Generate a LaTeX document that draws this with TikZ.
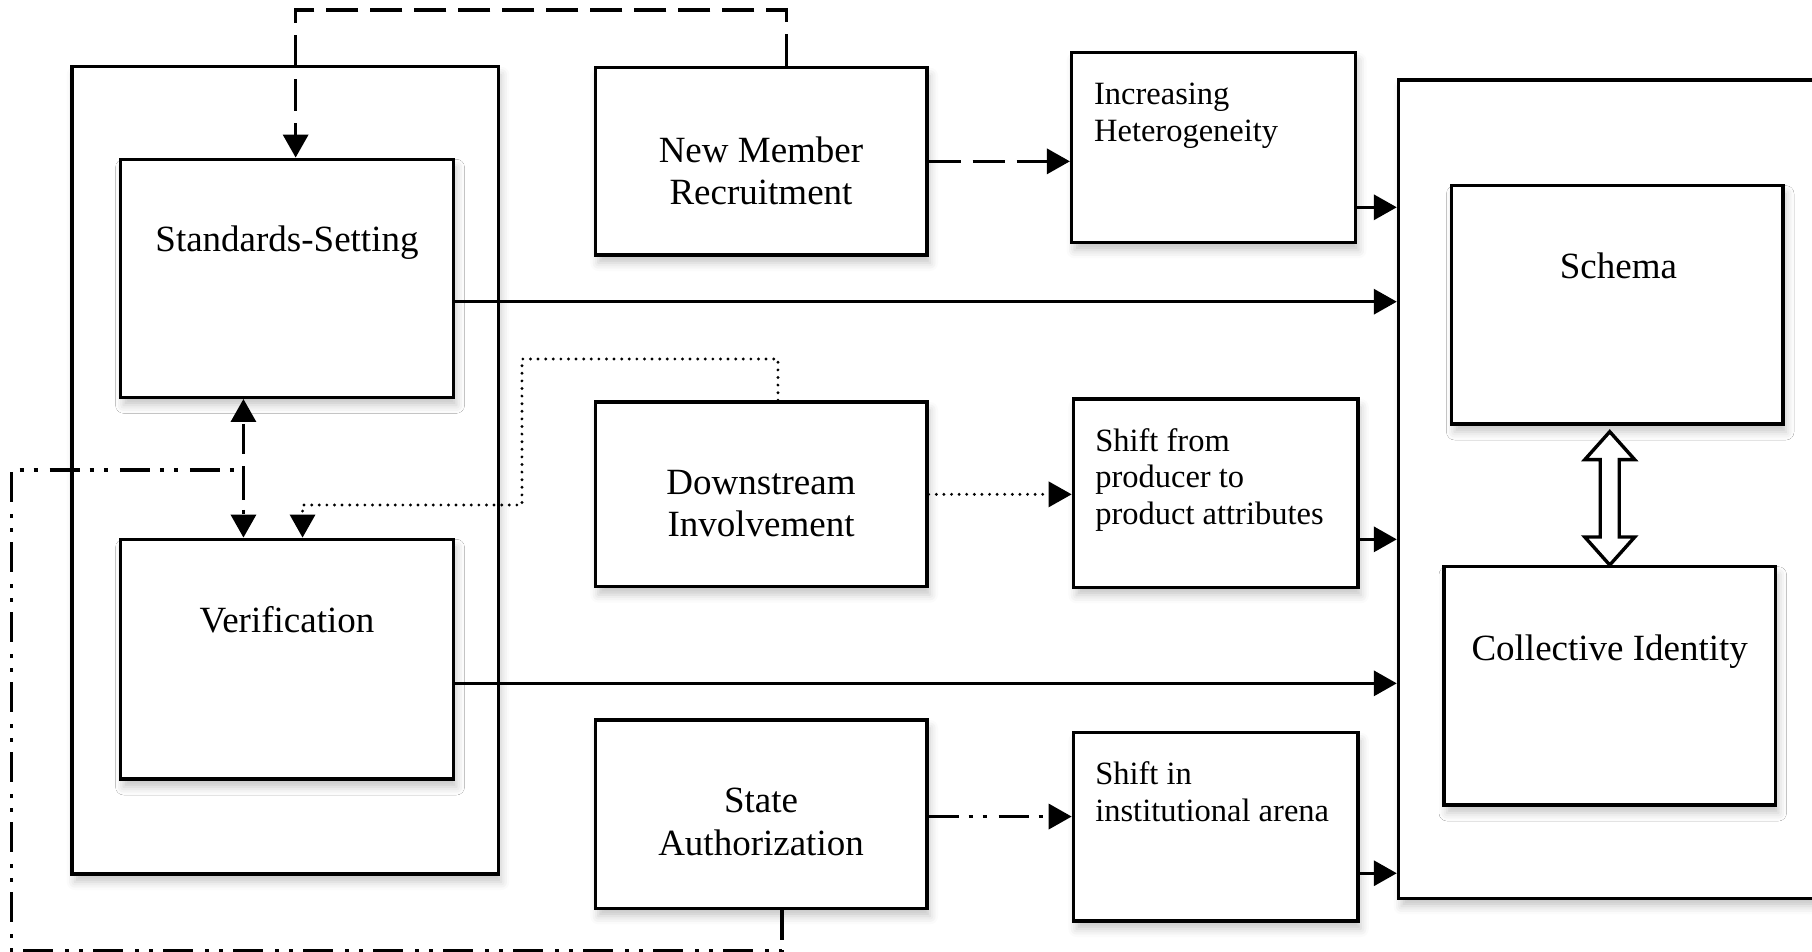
\documentclass[tikz,border=0pt]{standalone}
\usepackage{fontspec}
\setmainfont{Liberation Serif}
\usetikzlibrary{arrows.meta,fit,calc,shadows.blur}
\tikzset{
  box/.style={draw, line width=1.7pt, fill=white, inner sep=0pt,
    blur shadow={shadow xshift=1.5pt, shadow yshift=-4pt, shadow blur radius=4pt, shadow opacity=22}},
  bigtxt/.style={font=\fontsize{18.5pt}{21.2pt}\selectfont, inner sep=0pt},
  smalltxt/.style={font=\fontsize{16.25pt}{18.35pt}\selectfont, inner sep=0pt, align=left},
  conn/.style={line width=1.7pt},
  headtip/.style={-{Triangle[length=11.5pt,width=12.5pt]}},
  dashline/.style={conn, dash pattern=on 16pt off 6pt},
  dotline/.style={line width=1.6pt, line cap=round, dash pattern=on 0pt off 3.8pt},
  ddotline/.style={conn, dash pattern=on 15pt off 5pt on 2pt off 5pt on 2pt off 6pt},
}
\begin{document}
\begin{tikzpicture}[x=0.5pt,y=-0.5pt]
\useasboundingbox (0,0) rectangle (1812,952);
% containers
\node[box, fit={(1398.5,80) (1840,898.3)}] (rb) {};
\node[box, fit={(71.8,66.7) (498.3,874)}] (ol) {};
% boxes
\node[box, fit={(120.6,159.3) (453.5,397.3)}] (std) {};
\node[box, fit={(120.6,539.3) (453.5,779)}] (ver) {};
\node[box, fit={(595.3,67.7) (927,255)}] (nmr) {};
\node[box, fit={(595.3,402) (927,586.7)}] (dsi) {};
\node[box, fit={(595.3,720) (927,908.3)}] (sa) {};
\node[box, fit={(1071.6,52.7) (1355.5,242.3)}] (ih) {};
\node[box, fit={(1073.4,399) (1357.8,587.3)}] (sf) {};
\node[box, fit={(1073.4,732.7) (1357.8,921)}] (si) {};
\node[box, fit={(1451.5,185.7) (1783,424)}] (sch) {};
\node[box, fit={(1444,566.7) (1775.5,805)}] (ci) {};
% texts
\node[bigtxt, anchor=base] (stdT) at (287,251.7) {Standards-Setting};
\node[bigtxt, anchor=base] (verT) at (287,632.7) {Verification};
\node[bigtxt, anchor=north, align=center] (nmrT) at (761,136.4) {New Member\\Recruitment};
\node[bigtxt, anchor=north, align=center] (dsiT) at (761,469.7) {Downstream\\Involvement};
\node[bigtxt, anchor=north, align=center] (saT) at (761,788) {State\\Authorization};
\node[bigtxt, anchor=base] (schT) at (1618.4,278.3) {Schema};
\node[bigtxt, anchor=base] (ciT) at (1609.7,660) {Collective Identity};
\node[smalltxt, anchor=north west] (ihT) at (1093.7,82.5) {Increasing\\Heterogeneity};
\node[smalltxt, anchor=north west] (sfT) at (1094.9,427.8) {Shift from\\producer to\\product attributes};
\node[smalltxt, anchor=north west] (siT) at (1094.9,761.1) {Shift in\\institutional arena};
% helper coordinates
\coordinate (ihO) at ([yshift=-29.9pt]ih.east);
\coordinate (stdO) at ([yshift=-11.7pt]std.east);
\coordinate (sfO) at ([yshift=-23.1pt]sf.east);
\coordinate (verO) at ([yshift=-12.1pt]ver.east);
\coordinate (siO) at ([yshift=-23.2pt]si.east);
\coordinate (saE) at ([yshift=-1.2pt]sa.east);
\coordinate (saO) at ([xshift=10.4pt]sa.south);
\coordinate (stdA) at ([xshift=-21.8pt]std.south);
\coordinate (verA) at ([xshift=-21.8pt]ver.north);
% connectors
\draw[dashline, headtip] ([xshift=12.6pt]nmr.north) -- ++(0,-56) -| ([xshift=4.3pt]std.north);
\draw[dashline, headtip] (nmr.east) -- (nmr.east -| ih.west);
\draw[conn, headtip] (ihO) -- (ihO -| rb.west);
\draw[conn, headtip] (stdO) -- (stdO -| rb.west);
\draw[dotline, headtip] ([xshift=8.4pt]dsi.north) -- ++(0,-41.3) -- ++(-256,0) -- ++(0,146) -| ([xshift=7.75pt]ver.north);
\draw[dotline, headtip] (dsi.east) -- (dsi.east -| sf.west);
\draw[conn, headtip] (sfO) -- (sfO -| rb.west);
\draw[conn, headtip] (verO) -- (verO -| rb.west);
\draw[ddotline, headtip] (saE) -- (saE -| si.west);
\draw[conn, headtip] (siO) -- (siO -| rb.west);
\draw[ddotline, headtip] (saO) -- ++(0,40.7) -- ++(-770.4,0) -- ++(0,-480.7) coordinate (lt) -| (stdA);
\draw[ddotline, headtip] (stdA |- lt) -- (verA);
% double hollow arrow between Schema and Collective Identity
\draw[line width=1.7pt, fill=white, line join=miter]
  (ci.north) -- ++(-25,-28) -- ++(15.5,0) -- ++(0,-77.3) -- ++(-15.5,0)
  -- ++(25,-28) -- ++(25,28) -- ++(-15.5,0) -- ++(0,77.3) -- ++(15.5,0) -- cycle;
\end{tikzpicture}
\end{document}
